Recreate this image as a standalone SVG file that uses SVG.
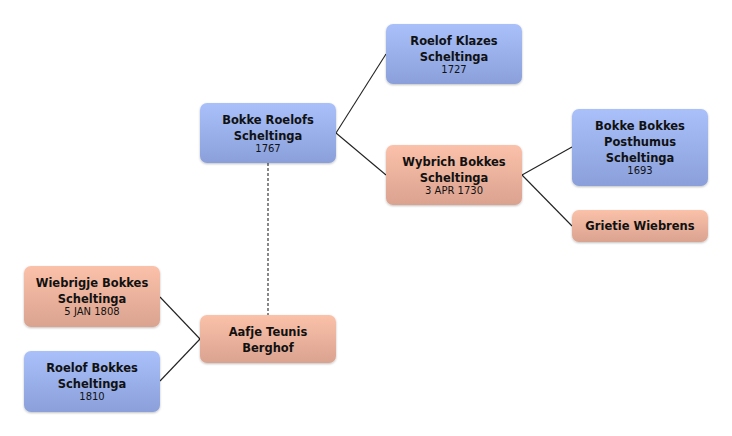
<svg xmlns="http://www.w3.org/2000/svg" width="732" height="436" viewBox="0 0 732 436">
<defs>
<linearGradient id="gb" x1="0" y1="0" x2="0" y2="1"><stop offset="0" stop-color="#a9c0fb"/><stop offset="1" stop-color="#8ba0da"/></linearGradient>
<linearGradient id="gp" x1="0" y1="0" x2="0" y2="1"><stop offset="0" stop-color="#fbc1a9"/><stop offset="1" stop-color="#daa390"/></linearGradient>
<filter id="sh" x="-10%" y="-10%" width="120%" height="130%"><feDropShadow dx="0" dy="1" stdDeviation="1.2" flood-color="#000" flood-opacity="0.25"/></filter>
</defs>
<style>
.b{fill:url(#gb);filter:url(#sh)}
.p{fill:url(#gp);filter:url(#sh)}
.n{font-family:"DejaVu Sans",sans-serif;font-weight:bold;font-size:11.5px;fill:#111;text-anchor:middle}
.d{font-family:"DejaVu Sans",sans-serif;font-size:10px;fill:#111;text-anchor:middle}
.c{stroke:#222;stroke-width:1.1;fill:none}
.dash{stroke:#888;stroke-width:2;stroke-dasharray:3,2;fill:none}
</style>
<rect width="732" height="436" fill="#fff"/>
<g id="connectors">
<path class="c" d="M336,133 L386,54"/>
<path class="c" d="M336,133 L386,175"/>
<path class="c" d="M522,175 L572,147"/>
<path class="c" d="M522,175 L572,226"/>
<path class="c" d="M200,339 L160,297"/>
<path class="c" d="M200,339 L160,381"/>
<path class="dash" d="M268,163 L268,315"/>
</g>
<g id="bokke-roelofs"><rect class="b" x="200" y="103" width="136" height="60" rx="7"/><text class="n" x="268" y="124">Bokke Roelofs</text><text class="n" x="268" y="140">Scheltinga</text><text class="d" x="268" y="152">1767</text></g>
<g id="roelof-klazes"><rect class="b" x="386" y="24" width="136" height="60" rx="7"/><text class="n" x="454" y="45">Roelof Klazes</text><text class="n" x="454" y="61">Scheltinga</text><text class="d" x="454" y="73">1727</text></g>
<g id="wybrich"><rect class="p" x="386" y="145" width="136" height="60" rx="7"/><text class="n" x="454" y="166">Wybrich Bokkes</text><text class="n" x="454" y="182">Scheltinga</text><text class="d" x="454" y="194">3 APR 1730</text></g>
<g id="bokke-bokkes"><rect class="b" x="572" y="109" width="136" height="77" rx="7"/><text class="n" x="640" y="130">Bokke Bokkes</text><text class="n" x="640" y="146">Posthumus</text><text class="n" x="640" y="162">Scheltinga</text><text class="d" x="640" y="174">1693</text></g>
<g id="grietie"><rect class="p" x="572" y="210" width="136" height="32" rx="7"/><text class="n" x="640" y="230">Grietie Wiebrens</text></g>
<g id="aafje"><rect class="p" x="200" y="315" width="136" height="48" rx="7"/><text class="n" x="268" y="336">Aafje Teunis</text><text class="n" x="268" y="352">Berghof</text></g>
<g id="wiebrigje"><rect class="p" x="24" y="266" width="136" height="61" rx="7"/><text class="n" x="92" y="287">Wiebrigje Bokkes</text><text class="n" x="92" y="303">Scheltinga</text><text class="d" x="92" y="315">5 JAN 1808</text></g>
<g id="roelof-bokkes"><rect class="b" x="24" y="351" width="136" height="61" rx="7"/><text class="n" x="92" y="372">Roelof Bokkes</text><text class="n" x="92" y="388">Scheltinga</text><text class="d" x="92" y="400">1810</text></g>
</svg>
